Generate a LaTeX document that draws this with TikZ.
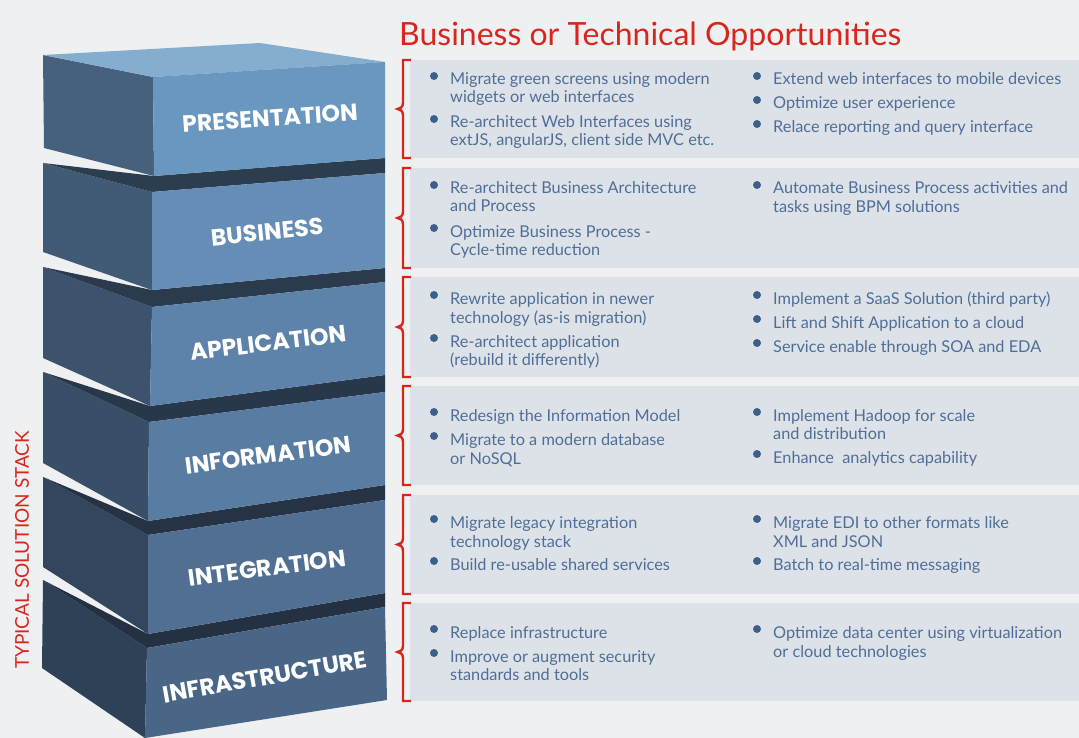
\documentclass[tikz,border=0pt]{standalone}
\usepackage{fontspec}
\setmainfont{Lato}
\newfontfamily\labelfont{Poppins}
\definecolor{bg}{HTML}{EFF0F2}
\definecolor{panel}{HTML}{DDE2E9}
\definecolor{redc}{HTML}{D9261C}
\definecolor{txt}{HTML}{4F6E97}
\definecolor{bul}{HTML}{3F5F8B}
\definecolor{pTop}{HTML}{84ADCF}
\definecolor{pFront}{HTML}{6A97C0}
\definecolor{pLeft}{HTML}{46617E}
\definecolor{bFront}{HTML}{658DB6}
\definecolor{bLeft}{HTML}{415A76}
\definecolor{bDark}{HTML}{2D3D50}
\definecolor{aFront}{HTML}{5E83AB}
\definecolor{aLeft}{HTML}{3D536D}
\definecolor{aDark}{HTML}{2B3A4C}
\definecolor{iFront}{HTML}{587CA2}
\definecolor{iLeft}{HTML}{394E67}
\definecolor{iDark}{HTML}{283749}
\definecolor{gFront}{HTML}{506F93}
\definecolor{gLeft}{HTML}{33465D}
\definecolor{gDark}{HTML}{263345}
\definecolor{fFront}{HTML}{4A6687}
\definecolor{fLeft}{HTML}{2F4157}
\definecolor{fDark}{HTML}{243142}
\tikzset{
  blocklabel/.style={text=white, font=\labelfont\bfseries\fontsize{23.5}{27}\selectfont, inner sep=0pt},
  itemtext/.style={text=txt, font=\fontsize{16.3}{19}\selectfont, anchor=base west, inner sep=0pt},
  bulletdot/.style={circle, fill=bul, minimum size=8pt, inner sep=0pt},
  panelbox/.style={fill=panel},
  bracket/.style={draw=redc, line width=2.4pt, line join=miter},
}
\newcommand\bitem[4]{\node[bulletdot] (#1b) at (#2-16,#3-3) {};\node[itemtext] (#1) at (#2,#3+6) {#4};}
\newcommand\citem[4]{\node[itemtext] (#1) at (#2,#3+6) {#4};}
\newcommand\brk[2]{\draw[bracket] (411,#1) -- (403,#1) -- (403,{(#1+#2)/2-6}) .. controls (403,{(#1+#2)/2-2}) and (400,{(#1+#2)/2}) .. (397.5,{(#1+#2)/2}) .. controls (400,{(#1+#2)/2}) and (403,{(#1+#2)/2+2}) .. (403,{(#1+#2)/2+6}) -- (403,#2) -- (411,#2);}
\begin{document}
\begin{tikzpicture}[x=1pt,y=-1pt]
\fill[bg] (0,0) rectangle (1079,738);
\useasboundingbox (0,0) rectangle (1079,738);

% ---------- stack, bottom to top ----------
% Infrastructure
\fill[fLeft] (43,580) -- (147,648) -- (145,738) -- (42,668) -- cycle;
\fill[fDark] (43,580) -- (147,648) -- (385,607) -- (385,593) -- (148,634) -- cycle;
\fill[fFront] (147,648) -- (385,607) -- (387,700) -- (145,738) -- cycle;
\node[blocklabel, rotate=10] (lInfra) at (265,677) {INFRASTRUCTURE};
% Integration
\fill[gLeft] (43,477) -- (148,535) -- (148,634) -- (43,567) -- cycle;
\fill[gDark] (43,477) -- (148,535) -- (385,500) -- (385,485) -- (148,521) -- cycle;
\fill[gFront] (148,535) -- (385,500) -- (385,593) -- (148,634) -- cycle;
\node[blocklabel, rotate=7.5] (lInteg) at (267,568) {INTEGRATION};
% Information
\fill[iLeft] (43,372) -- (149,422) -- (148,521) -- (43,463) -- cycle;
\fill[iDark] (43,372) -- (149,422) -- (385,392) -- (385,375) -- (150,406) -- cycle;
\fill[iFront] (149,422) -- (385,392) -- (385,485) -- (148,521) -- cycle;
\node[blocklabel, rotate=7.5] (lInfo) at (268,455) {INFORMATION};
% Application
\fill[aLeft] (43,267) -- (152,307) -- (150,406) -- (43,358) -- cycle;
\fill[aDark] (43,267) -- (152,307) -- (385,282) -- (385,268) -- (152,290) -- cycle;
\fill[aFront] (152,307) -- (385,282) -- (385,375) -- (150,406) -- cycle;
\node[blocklabel, rotate=7] (lApp) at (268,343) {APPLICATION};
% Business
\fill[bLeft] (43,163) -- (152,192) -- (152,290) -- (43,252) -- cycle;
\fill[bDark] (43,163) -- (152,192) -- (385,173) -- (385,158) -- (154,176) -- cycle;
\fill[bFront] (152,192) -- (385,173) -- (385,268) -- (152,290) -- cycle;
\node[blocklabel, rotate=6] (lBus) at (267,232) {BUSINESS};
% Presentation
\fill[pLeft] (43,55) -- (153,77) -- (154,176) -- (44,148) -- cycle;
\fill[pTop] (43,55) -- (260,43) -- (385,62) -- (153,77) -- cycle;
\fill[pFront] (153,77) -- (385,62) -- (385,158) -- (154,176) -- cycle;
\node[blocklabel, rotate=4] (lPres) at (270,118) {PRESENTATION};

% vertical label
\node[text=redc, font=\fontsize{19}{22}\selectfont, rotate=90, inner sep=0pt] (stack) at (22,550) {TYPICAL SOLUTION STACK};

% title
\node[text=redc, font=\fontsize{32}{38}\selectfont, anchor=base west, inner sep=0pt] (title) at (399,46) {Business or Technical Opportunities};

% ---------- panels ----------
\fill[panelbox] (410,60) rectangle (1079,158);
\fill[panelbox] (410,168) rectangle (1079,268);
\fill[panelbox] (410,277) rectangle (1079,377);
\fill[panelbox] (410,386) rectangle (1079,485);
\fill[panelbox] (410,495) rectangle (1079,594);
\fill[panelbox] (410,603) rectangle (1079,701);
\brk{60}{158}
\brk{168}{268}
\brk{277}{377}
\brk{386}{485}
\brk{495}{594}
\brk{603}{701}

% panel 1
\bitem{p1a}{450}{79}{Migrate green screens using modern}
\citem{p1a2}{450}{97}{widgets or web interfaces}
\bitem{p1b}{450}{122}{Re-architect Web Interfaces using}
\citem{p1b2}{450}{140}{extJS, angularJS, client side MVC etc.}
\bitem{p1c}{773}{79}{Extend web interfaces to mobile devices}
\bitem{p1d}{773}{103}{Optimize user experience}
\bitem{p1e}{773}{127}{Relace reporting and query interface}
% panel 2
\bitem{p2a}{450}{188}{Re-architect Business Architecture}
\citem{p2a2}{450}{206}{and Process}
\bitem{p2b}{450}{231}{Optimize Business Process -}
\citem{p2b2}{450}{249}{Cycle-time reduction}
\bitem{p2c}{773}{188}{Automate Business Process activities and}
\citem{p2c2}{773}{207}{tasks using BPM solutions}
% panel 3
\bitem{p3a}{450}{298}{Rewrite application in newer}
\citem{p3a2}{450}{317}{technology (as-is migration)}
\bitem{p3b}{450}{341}{Re-architect application}
\citem{p3b2}{450}{359}{(rebuild it differently)}
\bitem{p3c}{773}{298}{Implement a SaaS Solution (third party)}
\bitem{p3d}{773}{322}{Lift and Shift Application to a cloud}
\bitem{p3e}{773}{346}{Service enable through SOA and EDA}
% panel 4
\bitem{p4a}{450}{415}{Redesign the Information Model}
\bitem{p4b}{450}{439}{Migrate to a modern database}
\citem{p4b2}{450}{458}{or NoSQL}
\bitem{p4c}{773}{415}{Implement Hadoop for scale}
\citem{p4c2}{773}{433}{and distribution}
\bitem{p4d}{773}{457}{Enhance\ \ analytics capability}
% panel 5
\bitem{p5a}{450}{522}{Migrate legacy integration}
\citem{p5a2}{450}{541}{technology stack}
\bitem{p5b}{450}{564}{Build re-usable shared services}
\bitem{p5c}{773}{522}{Migrate EDI to other formats like}
\citem{p5c2}{773}{541}{XML and JSON}
\bitem{p5d}{773}{564}{Batch to real-time messaging}
% panel 6
\bitem{p6a}{450}{632}{Replace infrastructure}
\bitem{p6b}{450}{656}{Improve or augment security}
\citem{p6b2}{450}{674}{standards and tools}
\bitem{p6c}{773}{632}{Optimize data center using virtualization}
\citem{p6c2}{773}{651}{or cloud technologies}
\end{tikzpicture}
\end{document}
